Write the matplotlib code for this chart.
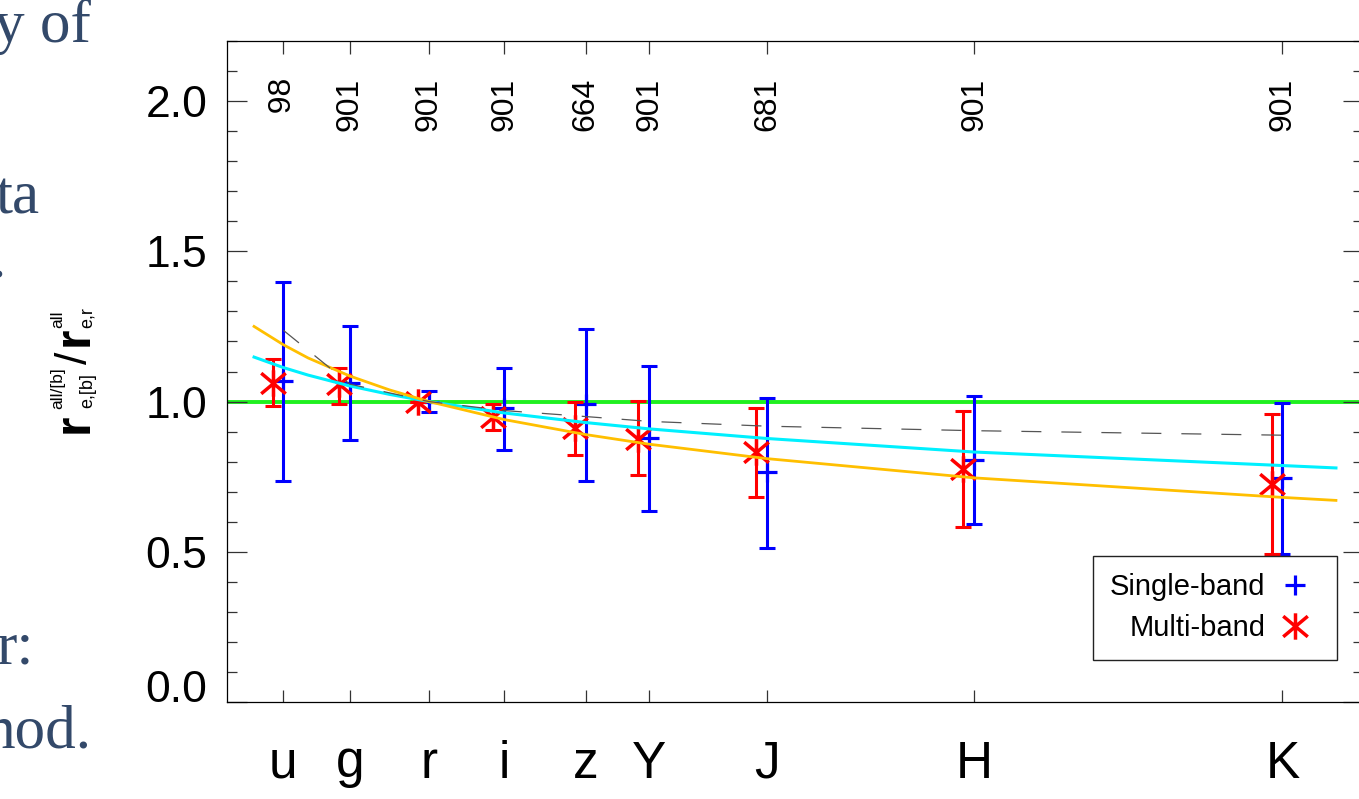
"""Ratio of multi-band to single-band effective radii versus filter wavelength."""

import matplotlib
matplotlib.use("Agg")
import matplotlib.pyplot as plt
from matplotlib.lines import Line2D
from matplotlib.path import Path
from matplotlib.ticker import MultipleLocator
from matplotlib import transforms

plt.rcParams["font.family"] = ["Liberation Sans", "DejaVu Sans"]

# --- data -----------------------------------------------------------------
bands = ["u", "g", "r", "i", "z", "Y", "J", "H", "K"]
band_wave = [3543, 4770, 6231, 7625, 9134, 10305, 12483, 16313, 22010]
n_gal = [98, 901, 901, 901, 664, 901, 681, 901, 901]

single_mid = [1.068, 1.061, 1.000, 0.977, 0.991, 0.878, 0.764, 0.807, 0.744]
single_lo = [0.737, 0.872, 0.964, 0.840, 0.737, 0.637, 0.513, 0.594, 0.492]
single_hi = [1.399, 1.250, 1.035, 1.111, 1.242, 1.117, 1.012, 1.020, 0.996]

multi_mid = [1.063, 1.057, 1.000, 0.948, 0.911, 0.876, 0.831, 0.776, 0.726]
multi_lo = [0.984, 0.992, 1.000, 0.906, 0.823, 0.757, 0.682, 0.581, 0.494]
multi_hi = [1.142, 1.111, 1.000, 0.992, 1.000, 1.002, 0.978, 0.967, 0.957]

dashed_ref = [1.237, 1.058, 1.000, 0.970, 0.950, 0.934, 0.918, 0.903, 0.888]

trend_wave = [3000, 3543, 4000, 4770, 5500, 6231, 7625, 9134, 10305, 12483, 16313, 22010, 23000]
trend_cyan = [1.148, 1.113, 1.088, 1.052, 1.024, 1.000, 0.962, 0.930, 0.909, 0.877, 0.832, 0.787, 0.779]
trend_gold = [1.250, 1.189, 1.145, 1.085, 1.039, 1.000, 0.940, 0.890, 0.858, 0.810, 0.746, 0.681, 0.671]

y_ticks = [0.0, 0.5, 1.0, 1.5, 2.0]

W, H = 1359, 799
MULTI_SHIFT = 200  # Angstrom, red points sit a little left of the band
SLIDE_BLUE = "#33496a"

fig = plt.figure(figsize=(W / 100, H / 100), dpi=100)
ax = fig.add_axes([227 / W, 97 / H, 1136 / W, 661 / H])

ax.axhline(1.0, color="#1ff01f", lw=2.8, zorder=1)

ax.errorbar(band_wave, single_mid,
            yerr=[[m - lo for m, lo in zip(single_mid, single_lo)],
                  [hi - m for m, hi in zip(single_mid, single_hi)]],
            fmt="none", ecolor="#0000ff", elinewidth=2.2, capsize=6, capthick=2.2, zorder=2)
ax.plot(band_wave, single_mid, ls="none", marker="+", ms=15, mew=2.3,
        color="#0000ff", zorder=2)

star = Path([(0, -1), (0, 1), (-0.93, -0.78), (0.93, 0.78), (-0.93, 0.78), (0.93, -0.78)],
            [Path.MOVETO, Path.LINETO] * 3)
multi_wave = [w - MULTI_SHIFT for w in band_wave]
ax.errorbar(multi_wave, multi_mid,
            yerr=[[m - lo for m, lo in zip(multi_mid, multi_lo)],
                  [hi - m for m, hi in zip(multi_mid, multi_hi)]],
            fmt="none", ecolor="#ff0000", elinewidth=2.2, capsize=6, capthick=2.2, zorder=3)
ax.plot(multi_wave, multi_mid, ls="none", marker=star, ms=19, mew=2.5,
        color="#ff0000", zorder=3)

ax.plot(trend_wave, trend_cyan, color="#00f0ff", lw=2.2, zorder=4)
ax.plot(trend_wave, trend_gold, color="#ffbf00", lw=2.0, zorder=5)
ax.plot(band_wave, dashed_ref, color="#555555", lw=0.9, ls=(0, (16, 16)), zorder=6)

ax.set_xlim(2500, 23500)
ax.set_ylim(0.0, 2.2)
ax.set_xticks(band_wave)
ax.set_xticklabels(bands, fontsize=37)
ax.set_yticks(y_ticks)
ax.set_yticklabels([f"{v:.1f}" for v in y_ticks], fontsize=32)
ax.yaxis.set_minor_locator(MultipleLocator(0.1))
ax.tick_params(axis="x", which="major", direction="in", top=True, length=9,
               width=0.9, color="#333333", pad=27)
ax.tick_params(axis="y", which="major", direction="in", right=True, length=14.5,
               width=0.9, color="#333333", pad=14)
ax.tick_params(axis="y", which="minor", direction="in", right=True, length=7.2,
               width=0.9, color="#333333")
ax.yaxis.get_major_ticks()[0].label1.set_va("baseline")
for sp in ax.spines.values():
    sp.set_linewidth(0.9)

# galaxy counts above each band
top = transforms.blended_transform_factory(ax.transData, ax.transAxes)
for w, n in zip(band_wave, n_gal):
    ax.text(w, 0.8638, str(n).rjust(3, "\u2007"), transform=top, fontsize=23,
            rotation=90, rotation_mode="anchor", ha="left", va="center")

# y label built from pieces (big r, tiny super/subscripts)
def vtext(x_px, y_px, s, size, **kw):
    fig.text(x_px / W, 1 - y_px / H, s, fontsize=size, rotation=90,
             rotation_mode="anchor", ha="left", va="baseline", **kw)

vtext(88, 433, "r", 36, weight="bold")
vtext(62, 409, "all/[b]", 12.5)
vtext(92, 408, "e,[b]", 13)
vtext(87, 364, "/", 32)
vtext(88, 346, "r", 36, weight="bold")
vtext(62, 328, "all", 12.5)
vtext(92, 328, "e,r", 13)

leg_handles = [
    Line2D([], [], ls="none", marker="+", ms=15, mew=2.3, color="#0000ff"),
    Line2D([], [], ls="none", marker=star, ms=19, mew=2.5, color="#ff0000"),
]
leg = ax.legend(leg_handles, ["Single-band", "Multi-band"], loc="lower right",
                bbox_to_anchor=(1337 / W, (H - 660) / H), bbox_transform=fig.transFigure,
                borderaxespad=0, markerfirst=False, fontsize=21, handlelength=1.7,
                handletextpad=0.15, borderpad=0.6, labelspacing=0.45,
                fancybox=False, framealpha=1, edgecolor="#222222")
leg.get_frame().set_linewidth(1.0)

# bits of slide text clipped at the left edge
for s, x, y in [("y of", 91, 42), ("ta", 39, 213), (".", 6, 277),
                ("r:", 34, 663), ("hod.", 91, 748)]:
    fig.text(x / W, 1 - y / H, s, fontsize=44, family="Liberation Serif",
             color=SLIDE_BLUE, ha="right", va="baseline")

fig.savefig("out.png", dpi=100)
plt.close(fig)
